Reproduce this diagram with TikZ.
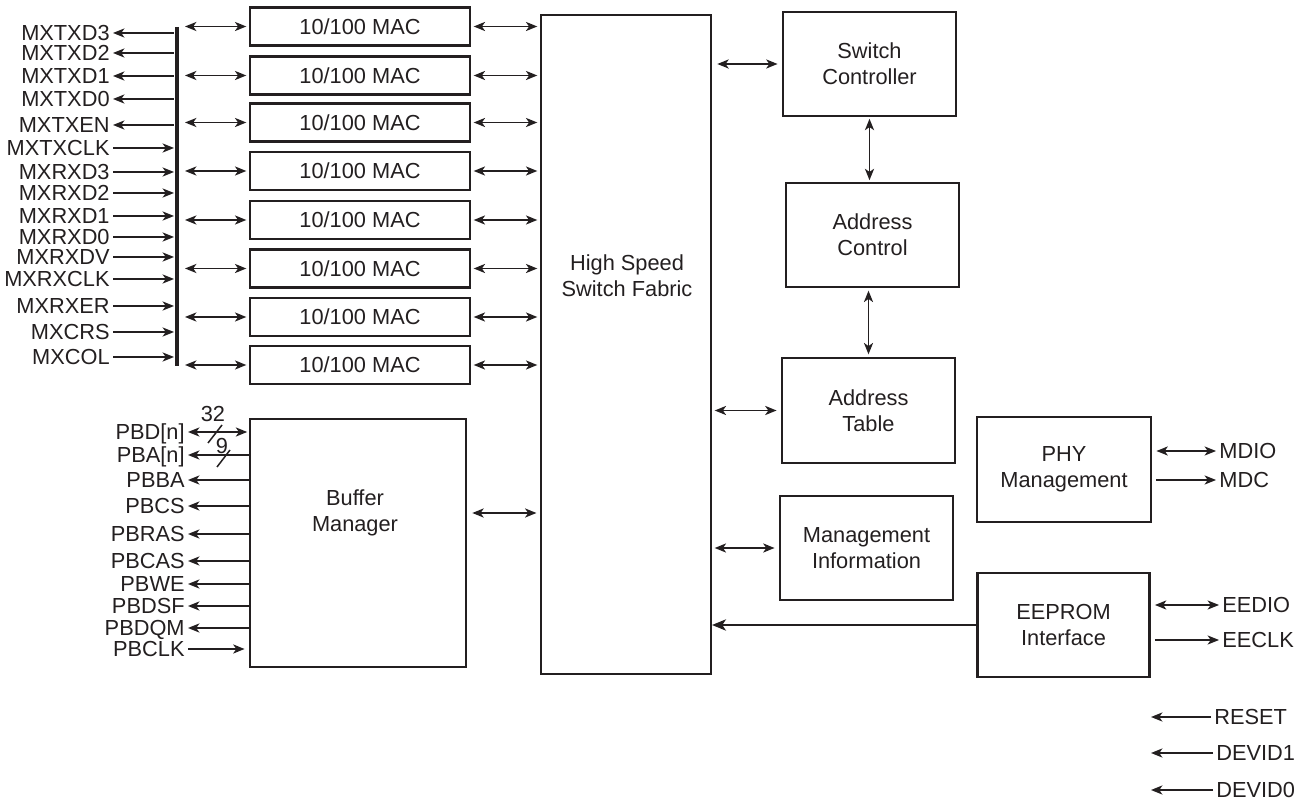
\documentclass[tikz,border=0pt]{standalone}
\usepackage{fontspec}
\setmainfont{Liberation Sans}
\usetikzlibrary{arrows.meta}
\definecolor{ink}{HTML}{231F20}

\begin{document}
\begin{tikzpicture}[x=0.02cm,y=-0.02cm,color=ink,line width=0.85pt,
  font=\fontsize{12.4}{14.6}\selectfont,
  >={Stealth[length=6.5pt,width=5.2pt,inset=1.8pt]},
  blk/.style={draw=ink,line width=1.2pt,inner sep=0pt,align=center,minimum width=3.46cm,minimum height=2.08cm},
  macbox/.style={blk,minimum width=4.4cm,minimum height=0.76cm},
  sig/.style={inner sep=1.5pt,text height=8.9pt,text depth=0pt},
  bigtip/.style={-{Stealth[length=8pt,width=6.5pt,inset=2.2pt]}}]

\useasboundingbox (0,0) rectangle (1305,803);

%bus
\coordinate (bustop) at (177,27);
\coordinate (busbot) at (177,366);
\coordinate (busin) at (174,0);
\coordinate (busout) at (185,0);
\draw[line width=2.3pt] (bustop) -- (busbot);

%mii signals
\node[sig,anchor=east] at (113,33) (txd3) {MXTXD3};
\node[sig,anchor=east] at (113,53) (txd2) {MXTXD2};
\node[sig,anchor=east] at (113,76) (txd1) {MXTXD1};
\node[sig,anchor=east] at (113,99) (txd0) {MXTXD0};
\node[sig,anchor=east] at (113,125) (txen) {MXTXEN};
\node[sig,anchor=east] at (113,148) (txclk) {MXTXCLK};
\node[sig,anchor=east] at (113,172) (rxd3) {MXRXD3};
\node[sig,anchor=east] at (113,193) (rxd2) {MXRXD2};
\node[sig,anchor=east] at (113,216) (rxd1) {MXRXD1};
\node[sig,anchor=east] at (113,237) (rxd0) {MXRXD0};
\node[sig,anchor=east] at (113,257) (rxdv) {MXRXDV};
\node[sig,anchor=east] at (113,279) (rxclk) {MXRXCLK};
\node[sig,anchor=east] at (113,306) (rxer) {MXRXER};
\node[sig,anchor=east] at (113,332) (crs) {MXCRS};
\node[sig,anchor=east] at (113,357) (col) {MXCOL};

\draw[<-] (txd3.east) -- (txd3 -| busin);
\draw[<-] (txd2.east) -- (txd2 -| busin);
\draw[<-] (txd1.east) -- (txd1 -| busin);
\draw[<-] (txd0.east) -- (txd0 -| busin);
\draw[<-] (txen.east) -- (txen -| busin);
\draw[->] (txclk.east) -- (txclk -| busin);
\draw[->] (rxd3.east) -- (rxd3 -| busin);
\draw[->] (rxd2.east) -- (rxd2 -| busin);
\draw[->] (rxd1.east) -- (rxd1 -| busin);
\draw[->] (rxd0.east) -- (rxd0 -| busin);
\draw[->] (rxdv.east) -- (rxdv -| busin);
\draw[->] (rxclk.east) -- (rxclk -| busin);
\draw[->] (rxer.east) -- (rxer -| busin);
\draw[->] (crs.east) -- (crs -| busin);
\draw[->] (col.east) -- (col -| busin);

%mac blocks
\node[macbox] at (360,26.5) (mac1) {10/100 MAC};
\node[macbox] at (360,75.5) (mac2) {10/100 MAC};
\node[macbox] at (360,122.5) (mac3) {10/100 MAC};
\node[macbox] at (360,171) (mac4) {10/100 MAC};
\node[macbox] at (360,220) (mac5) {10/100 MAC};
\node[macbox] at (360,268.5) (mac6) {10/100 MAC};
\node[macbox] at (360,317) (mac7) {10/100 MAC};
\node[macbox] at (360,365) (mac8) {10/100 MAC};

%core blocks
\node[blk,minimum width=3.4cm,minimum height=13.18cm] at (626,344.5) (fabric) {};
\node[align=center] at (627,276) (fabrictxt) {High Speed\\Switch Fabric};
\node[blk,minimum width=4.32cm,minimum height=4.96cm] at (358,543) (buffer) {};
\node[align=center] at (355,513) (buffertxt) {Buffer\\Manager};

\node[blk] at (869.5,64) (sc) {Switch\\Controller};
\node[blk] at (872.5,235) (ac) {Address\\Control};
\node[blk,minimum height=2.1cm] at (868.5,410.5) (at) {Address\\Table};
\node[blk] at (866.5,548) (mi) {Management\\Information};
\node[blk,minimum width=3.48cm,minimum height=2.1cm] at (1064,469.5) (phy) {PHY\\Management};
\node[blk,minimum width=3.44cm] at (1063.5,625) (eeprom) {EEPROM\\Interface};

%bus to mac to fabric
\draw[<->,shorten >=1.5pt] (mac1.west -| busout) -- (mac1.west);
\draw[<->,shorten >=1.5pt] (mac2.west -| busout) -- (mac2.west);
\draw[<->,shorten >=1.5pt] (mac3.west -| busout) -- (mac3.west);
\draw[<->,shorten >=1.5pt] (mac4.west -| busout) -- (mac4.west);
\draw[<->,shorten >=1.5pt] (mac5.west -| busout) -- (mac5.west);
\draw[<->,shorten >=1.5pt] (mac6.west -| busout) -- (mac6.west);
\draw[<->,shorten >=1.5pt] (mac7.west -| busout) -- (mac7.west);
\draw[<->,shorten >=1.5pt] (mac8.west -| busout) -- (mac8.west);

\draw[<->,shorten <=1.5pt,shorten >=1.5pt] (mac1.east) -- (mac1.east -| fabric.west);
\draw[<->,shorten <=1.5pt,shorten >=1.5pt] (mac2.east) -- (mac2.east -| fabric.west);
\draw[<->,shorten <=1.5pt,shorten >=1.5pt] (mac3.east) -- (mac3.east -| fabric.west);
\draw[<->,shorten <=1.5pt,shorten >=1.5pt] (mac4.east) -- (mac4.east -| fabric.west);
\draw[<->,shorten <=1.5pt,shorten >=1.5pt] (mac5.east) -- (mac5.east -| fabric.west);
\draw[<->,shorten <=1.5pt,shorten >=1.5pt] (mac6.east) -- (mac6.east -| fabric.west);
\draw[<->,shorten <=1.5pt,shorten >=1.5pt] (mac7.east) -- (mac7.east -| fabric.west);
\draw[<->,shorten <=1.5pt,shorten >=1.5pt] (mac8.east) -- (mac8.east -| fabric.west);

%fabric links
\draw[<->,shorten <=3pt,shorten >=2.5pt] (sc.west -| fabric.east) -- (sc.west);
\draw[<->,shorten <=1pt,shorten >=1pt] (sc.south) -- (sc.south |- ac.north);
\draw[<->,shorten <=1.5pt,shorten >=1.5pt] (at.north |- ac.south) -- (at.north);
\draw[<->,shorten <=1.5pt,shorten >=2.5pt] (at.west -| fabric.east) -- (at.west);
\draw[<->,shorten <=1.5pt,shorten >=2.5pt] (mi.west -| fabric.east) -- (mi.west);
\draw[bigtip,line width=0.7pt] (eeprom.west) -- (eeprom.west -| fabric.east);
\draw[<->,shorten <=3pt,shorten >=2pt] (buffertxt -| buffer.east) -- (buffertxt -| fabric.west);

%buffer signals
\node[sig,anchor=east] at (188,432) (pbd) {PBD[n]};
\node[sig,anchor=east] at (188,455) (pba) {PBA[n]};
\node[sig,anchor=east] at (188,480) (pbba) {PBBA};
\node[sig,anchor=east] at (188,506) (pbcs) {PBCS};
\node[sig,anchor=east] at (188,534) (pbras) {PBRAS};
\node[sig,anchor=east] at (188,561) (pbcas) {PBCAS};
\node[sig,anchor=east] at (188,584) (pbwe) {PBWE};
\node[sig,anchor=east] at (188,606) (pbdsf) {PBDSF};
\node[sig,anchor=east] at (188,628) (pbdqm) {PBDQM};
\node[sig,anchor=east] at (188,649) (pbclk) {PBCLK};

\draw[<->,shorten >=1pt] (pbd.east) -- (pbd -| buffer.west);
\draw[<-] (pba.east) -- (pba -| buffer.west);
\draw[<-] (pbba.east) -- (pbba -| buffer.west);
\draw[<-] (pbcs.east) -- (pbcs -| buffer.west);
\draw[<-] (pbras.east) -- (pbras -| buffer.west);
\draw[<-] (pbcas.east) -- (pbcas -| buffer.west);
\draw[<-] (pbwe.east) -- (pbwe -| buffer.west);
\draw[<-] (pbdsf.east) -- (pbdsf -| buffer.west);
\draw[<-] (pbdqm.east) -- (pbdqm -| buffer.west);
\draw[->,shorten >=2.5pt] (pbclk.east) -- (pbclk -| buffer.west);

%bus widths
\draw (208,443) -- (222,425);
\node[inner sep=0pt] at (213,414) (w32) {32};
\draw (217,467) -- (230,450);
\node[inner sep=0pt] at (222,446) (w9) {9};

%phy and eeprom signals
\node[sig,anchor=west] at (1216,451) (mdio) {MDIO};
\node[sig,anchor=west] at (1216,480) (mdc) {MDC};
\node[sig,anchor=west] at (1219,605) (eedio) {EEDIO};
\node[sig,anchor=west] at (1219,640) (eeclk) {EECLK};

\draw[<->,shorten <=2.5pt] (phy.east |- mdio) -- (mdio.west);
\draw[->,shorten <=2.5pt] (phy.east |- mdc) -- (mdc.west);
\draw[<->,shorten <=2.5pt] (eeprom.east |- eedio) -- (eedio.west);
\draw[->,shorten <=2.5pt] (eeprom.east |- eeclk) -- (eeclk.west);

%misc inputs
\node[sig,anchor=west] at (1211,717) (reset) {RESET};
\node[sig,anchor=west] at (1213,753) (devid1) {DEVID1};
\node[sig,anchor=west] at (1213,790) (devid0) {DEVID0};
\coordinate (resetend) at (1151,717);
\coordinate (devid1end) at (1151,753);
\coordinate (devid0end) at (1151,790);
\draw[->] (reset.west) -- (resetend);
\draw[->] (devid1.west) -- (devid1end);
\draw[->] (devid0.west) -- (devid0end);

\end{tikzpicture}
\end{document}
